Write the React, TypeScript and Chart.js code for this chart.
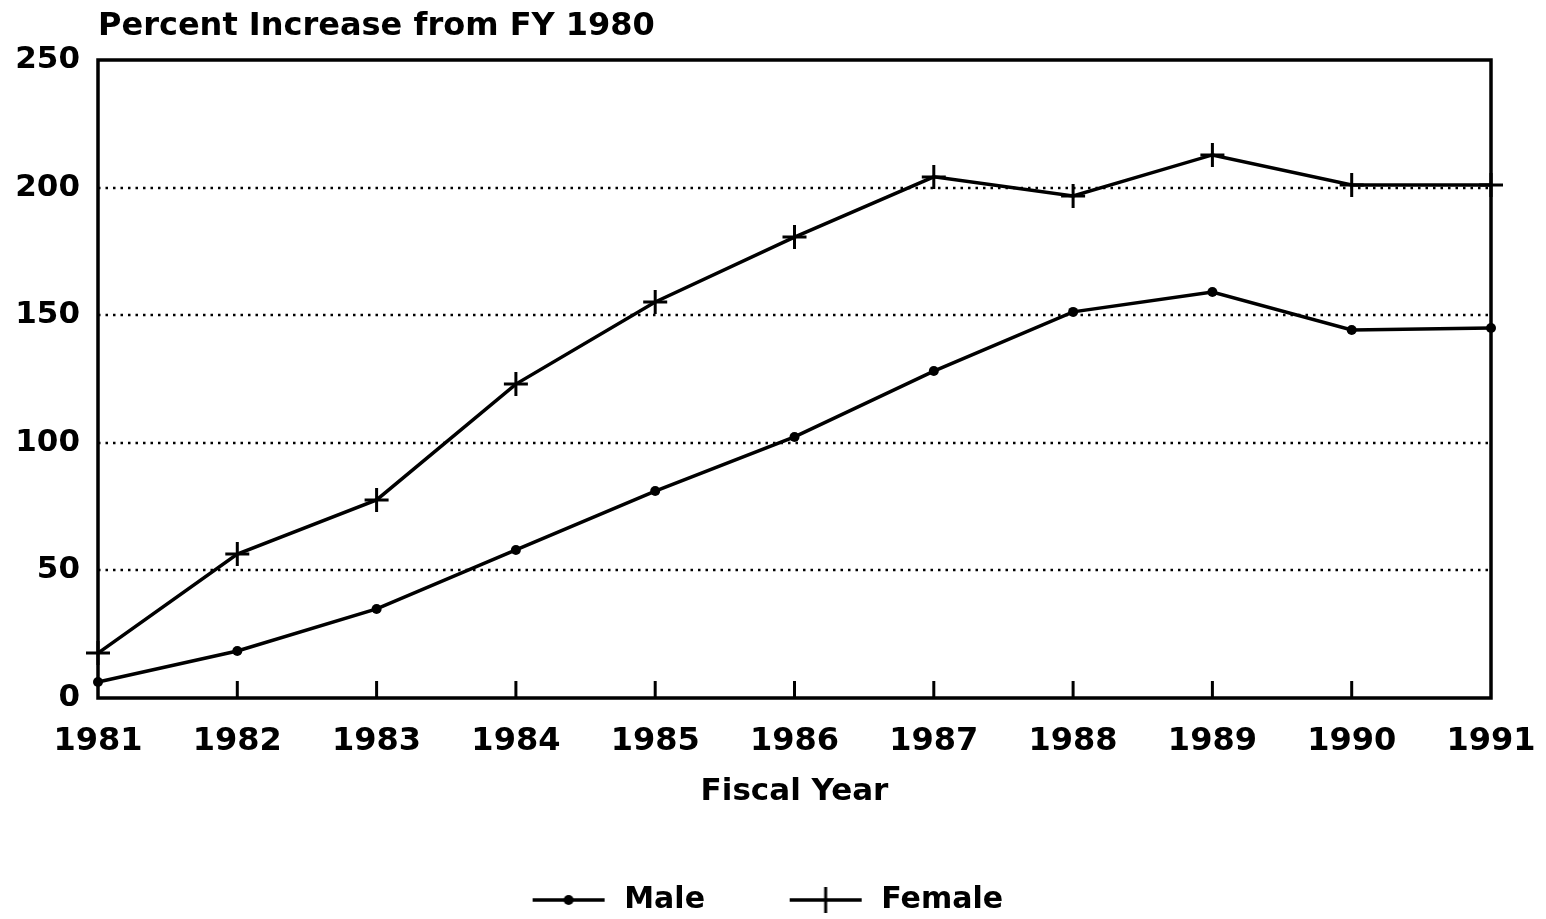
import React, { useEffect, useRef } from "react";
import { Chart, registerables } from "chart.js";

Chart.register(...registerables);

const years = ["1981", "1982", "1983", "1984", "1985", "1986", "1987", "1988", "1989", "1990", "1991"];
const maleValues = [6.3, 18.4, 34.9, 58, 81.1, 102.3, 128.1, 151.3, 159.1, 144.2, 145];
const femaleValues = [17.6, 56.4, 77.6, 123, 155.2, 180.6, 204.2, 196.7, 212.8, 201, 201];
const yTicks = [0, 50, 100, 150, 200, 250];
const titleText = "Percent Increase from FY 1980";
const xTitleText = "Fiscal Year";
const seriesNames = ["Male", "Female"];

const FONT = "'DejaVu Sans', 'Liberation Sans', sans-serif";

function makeLegendImage(kind: "dot" | "cross"): HTMLCanvasElement {
  const c = document.createElement("canvas");
  c.width = 122;
  c.height = 32;
  const g = c.getContext("2d")!;
  g.strokeStyle = "#000";
  g.fillStyle = "#000";
  g.lineWidth = 3.5;
  g.beginPath();
  g.moveTo(45, 16);
  g.lineTo(117, 16);
  g.stroke();
  if (kind === "dot") {
    g.beginPath();
    g.arc(81, 16, 5, 0, Math.PI * 2);
    g.fill();
  } else {
    g.lineWidth = 3;
    g.beginPath();
    g.moveTo(81, 3);
    g.lineTo(81, 29);
    g.stroke();
  }
  return c;
}

const framePlugin = {
  id: "frame",
  beforeDatasetsDraw(chart: any) {
    const { ctx, chartArea } = chart;
    const { left, right, top, bottom } = chartArea;
    const x = chart.scales.x;
    const y = chart.scales.y;
    ctx.save();
    ctx.strokeStyle = "#000";
    ctx.lineWidth = 2.5;
    ctx.setLineDash([2.5, 5]);
    y.ticks.forEach((t: any) => {
      if (t.value > y.min && t.value < y.max) {
        const py = Math.round(y.getPixelForValue(t.value));
        ctx.beginPath();
        ctx.moveTo(left, py);
        ctx.lineTo(right, py);
        ctx.stroke();
      }
    });
    ctx.setLineDash([]);
    ctx.lineWidth = 3;
    x.ticks.forEach((_t: any, i: number) => {
      if (i > 0 && i < x.ticks.length - 1) {
        const px = x.getPixelForTick(i);
        ctx.beginPath();
        ctx.moveTo(px, bottom);
        ctx.lineTo(px, bottom - 17);
        ctx.stroke();
      }
    });
    ctx.lineWidth = 3.5;
    ctx.strokeRect(left, top, right - left, bottom - top);
    ctx.restore();
  },
};

export default function App() {
  const ref = useRef<HTMLCanvasElement | null>(null);

  useEffect(() => {
    document.body.style.margin = "0";
    document.body.style.overflow = "hidden";
    const canvas = ref.current!;
    const maleImg = makeLegendImage("dot");
    const femaleImg = makeLegendImage("cross");

    const chart = new Chart(canvas, {
      type: "line",
      data: {
        labels: years,
        datasets: [
          {
            label: seriesNames[0],
            data: maleValues,
            borderColor: "#000",
            backgroundColor: "#000",
            borderWidth: 3.5,
            tension: 0,
            pointStyle: "circle",
            pointRadius: 5,
            pointBorderWidth: 0,
            pointBackgroundColor: "#000",
            clip: false as any,
          },
          {
            label: seriesNames[1],
            data: femaleValues,
            borderColor: "#000",
            backgroundColor: "#000",
            borderWidth: 3.5,
            tension: 0,
            pointStyle: "cross",
            pointRadius: 12,
            pointBorderWidth: 3,
            pointBorderColor: "#000",
            clip: false as any,
          },
        ],
      },
      options: {
        animation: false,
        responsive: false,
        devicePixelRatio: 1,
        events: [],
        layout: { padding: { left: 0, right: 55, top: 0, bottom: -6 } },
        plugins: {
          tooltip: { enabled: false },
          title: {
            display: true,
            text: titleText,
            align: "start",
            fullSize: false,
            color: "#000",
            font: { family: FONT, size: 32, weight: "bold", lineHeight: 1.2 },
            padding: { top: 7.5, bottom: 14.1 },
          },
          legend: {
            display: true,
            position: "bottom",
            labels: {
              usePointStyle: true,
              pointStyleWidth: 121.3,
              padding: 40,
              color: "#000",
              font: { family: FONT, size: 30, weight: "bold" },
              generateLabels: () => [
                { text: seriesNames[0], pointStyle: maleImg, datasetIndex: 0, fillStyle: "#000", strokeStyle: "#000", lineWidth: 0, hidden: false, fontColor: "#000" } as any,
                { text: seriesNames[1], pointStyle: femaleImg, datasetIndex: 1, fillStyle: "#000", strokeStyle: "#000", lineWidth: 0, hidden: false, fontColor: "#000" } as any,
              ],
            },
          },
        },
        scales: {
          x: {
            type: "category",
            offset: false,
            afterFit: (scale: any) => {
              scale.paddingLeft = 0;
              scale.paddingRight = 0;
              scale.height = 147;
            },
            grid: { display: false, drawTicks: false },
            border: { display: false },
            ticks: {
              color: "#000",
              autoSkip: false,
              maxRotation: 0,
              padding: 24,
              font: { family: FONT, size: 32, weight: "bold" },
            },
            title: {
              display: true,
              text: xTitleText,
              color: "#000",
              font: { family: FONT, size: 31, weight: "bold", lineHeight: 1.2 },
              padding: { top: 12.5, bottom: 34.9 },
            },
          },
          y: {
            min: 0,
            max: 250,
            afterFit: (scale: any) => {
              scale.width = 98;
            },
            afterBuildTicks: (scale: any) => {
              scale.ticks = yTicks.map((v) => ({ value: v }));
            },
            grid: { display: false, drawTicks: false },
            border: { display: false },
            ticks: {
              color: "#000",
              padding: 18,
              font: { family: FONT, size: 31, weight: "bold" },
            },
          },
        },
      },
      plugins: [framePlugin],
    });
    return () => chart.destroy();
  }, []);

  return <canvas ref={ref} width={1546} height={919} style={{ display: "block", width: 1546, height: 919 }} />;
}
